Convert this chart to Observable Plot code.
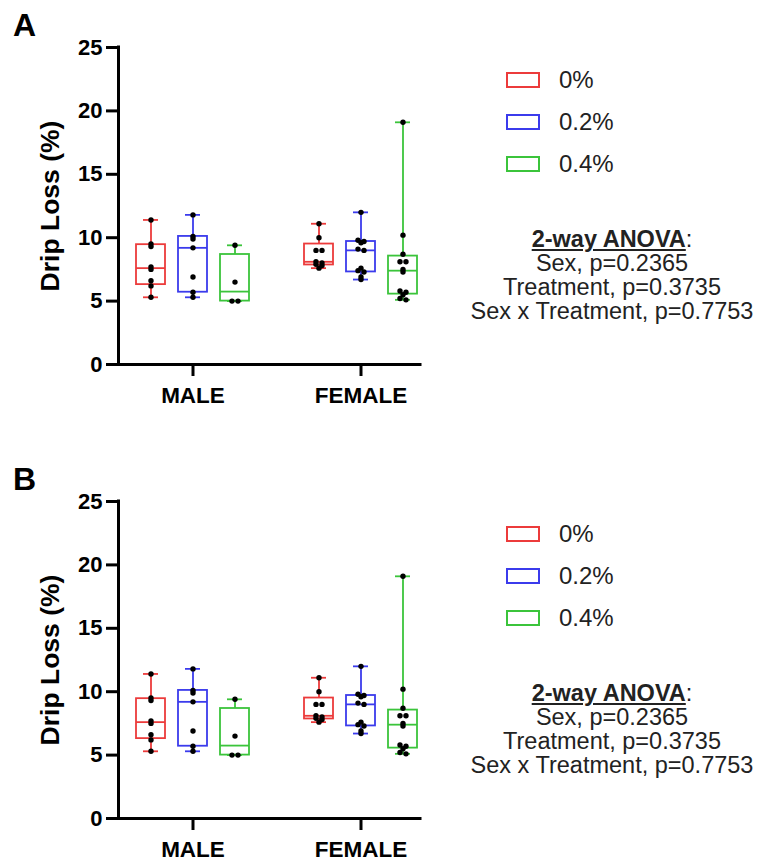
<!DOCTYPE html>
<html><head><meta charset="utf-8">
<script src="https://cdn.jsdelivr.net/npm/d3@7"></script>
<script src="https://cdn.jsdelivr.net/npm/@observablehq/plot@0.6"></script>
<style>
body{margin:0;overflow:hidden;background:#fff;font-family:"Liberation Sans",Arial,sans-serif;color:#000;}
#page{position:relative;width:759px;height:861px;overflow:hidden;background:#fff;}
.panel{position:absolute;left:0;width:759px;height:430px;}
.plot{position:absolute;left:0;top:0;}
.plabel{position:absolute;left:13px;top:9px;font-size:32px;font-weight:bold;line-height:32px;}
.legend{position:absolute;left:506px;top:59px;}
.legend .row{display:flex;align-items:center;height:42px;}
.legend .sw{box-sizing:border-box;width:34px;height:16px;border:2px solid;}
.legend .tx{margin-left:19px;font-size:24px;line-height:24px;color:#222;}
.anova{position:absolute;left:452px;width:320px;top:227px;text-align:center;font-size:23.5px;line-height:24px;color:#222;}
.anova .hd{font-weight:bold;text-decoration:underline;}
</style></head><body><div id="page"></div>
<script>
// ---- data ----
const sexes = ["MALE", "FEMALE"];
const treatments = ["0%", "0.2%", "0.4%"];
const colors = ["#ec3b3b", "#3b3bec", "#3bc43b"];
const yTicks = [0, 5, 10, 15, 20, 25];
const male0 = [11.4, 9.5, 9.3, 7.7, 7.5, 6.6, 6.2, 5.3];
const male02 = [11.8, 10.1, 9.9, 9.2, 6.9, 5.7, 5.3];
const male04 = [9.4, 6.5, 5.0, 5.0];
const female0 = [11.1, 10.0, 9.0, 9.0, 8.1, 8.0, 7.9, 7.8, 7.6];
const female02 = [12.0, 9.8, 9.7, 9.6, 9.1, 9.0, 7.6, 7.4, 7.3, 6.9, 6.7];
const female04 = [19.1, 10.2, 8.7, 8.1, 8.1, 7.5, 7.3, 5.8, 5.7, 5.5, 5.2, 5.1];
const anovaTitle = "2-way ANOVA";
const anovaLines = ["Sex, p=0.2365", "Treatment, p=0.3735", "Sex x Treatment, p=0.7753"];
const panelLabels = ["A", "B"];
const panelTops = [0, 454];

// ---- build tables ----
const series = {MALE: [male0, male02, male04], FEMALE: [female0, female02, female04]};
const key = (s, t) => s + "|" + t;
const rows = [];
for (const s of sexes) treatments.forEach((t, j) => series[s][j].forEach(v => rows.push({sex: s, treatment: t, group: key(s, t), value: v})));

// GraphPad-style quartiles (position p*(n+1))
function quart(sorted, p) {
  const n = sorted.length, pos = p * (n + 1);
  if (pos <= 1) return sorted[0];
  if (pos >= n) return sorted[n - 1];
  const i = Math.floor(pos);
  return sorted[i - 1] + (pos - i) * (sorted[i] - sorted[i - 1]);
}
const stats = [];
for (const s of sexes) treatments.forEach((t, j) => {
  const v = series[s][j].slice().sort((a, b) => a - b);
  stats.push({group: key(s, t), treatment: t, min: v[0], max: v[v.length - 1],
    q1: quart(v, 0.25), median: quart(v, 0.5), q3: quart(v, 0.75)});
});

const xDomain = [key("MALE","0%"), key("MALE","0.2%"), key("MALE","0.4%"), "gap", key("FEMALE","0%"), key("FEMALE","0.2%"), key("FEMALE","0.4%")];
const xTicks = sexes.map(s => key(s, "0.2%"));

// simple beeswarm: points with nearly equal y are set side by side around the group centre
function swarm(options, step = 6, thresh = 2) {
  return Plot.initializer(options, (data, facets, channels, scales) => {
    const G = channels.x.value, V = channels.y.value;
    const n = G.length, X = new Float64Array(n), Y = new Float64Array(n);
    for (let i = 0; i < n; i++) { X[i] = scales.x(G[i]); Y[i] = scales.y(V[i]); }
    const groups = d3.group(d3.range(n), i => G[i]);
    for (const [, I] of groups) {
      I.sort((a, b) => Y[a] - Y[b]);
      let row = [];
      const flush = () => { row.forEach((j, k) => { X[j] += (k - (row.length - 1) / 2) * step; }); row = []; };
      for (const i of I) { if (row.length && Y[i] - Y[row[0]] > thresh) flush(); row.push(i); }
      flush();
    }
    return {data, facets, channels: {x: {value: X}, y: {value: Y}}};
  });
}

function makePlot() {
  const W = 440, H = 420, ML = 118, MR = 20, MT = 47, MB = 56;
  const sw = 1.8;
  return Plot.plot({
    width: W, height: H, marginLeft: ML, marginRight: MR, marginTop: MT, marginBottom: MB,
    style: {fontFamily: '"Liberation Sans", Arial, sans-serif', background: "transparent", color: "black", overflow: "visible"},
    x: {type: "band", domain: xDomain, paddingInner: 0.3176, paddingOuter: 0.212, align: 0.86},
    y: {domain: [0, 25]},
    color: {domain: treatments, range: colors},
    marks: [
      Plot.axisY({ticks: yTicks, tickSize: 12, tickPadding: 4, fontSize: 22, fontWeight: "bold", strokeWidth: 3, tickFormat: d => String(d), label: null}),
      Plot.axisX({ticks: xTicks, tickFormat: g => g.split("|")[0], tickSize: 12, tickPadding: 11, fontSize: 22.5, fontWeight: "bold", strokeWidth: 3, label: null}),
      Plot.ruleY([0], {stroke: "black", strokeWidth: 3, strokeLinecap: "square"}),
      Plot.ruleX([null], {x: null, y1: 0, y2: 25, dx: -(W - ML - MR) / 2, stroke: "black", strokeWidth: 3, strokeLinecap: "square"}),
      Plot.text(["Drip Loss (%)"], {frameAnchor: "left", textAnchor: "middle", lineAnchor: "middle", rotate: -90, dx: -68, fontSize: 26.5, fontWeight: "bold", fill: "black"}),
      Plot.ruleX(stats, {x: "group", y1: "min", y2: "max", stroke: "treatment", strokeWidth: sw}),
      Plot.barY(stats, {x: "group", y1: "q1", y2: "q3", fill: "white", stroke: "treatment", strokeWidth: sw}),
      Plot.tickY(stats, {x: "group", y: "median", stroke: "treatment", strokeWidth: sw}),
      Plot.tickY(stats, {x: "group", y: "min", stroke: "treatment", strokeWidth: sw, insetLeft: 7, insetRight: 7}),
      Plot.tickY(stats, {x: "group", y: "max", stroke: "treatment", strokeWidth: sw, insetLeft: 7, insetRight: 7}),
      Plot.dot(rows, swarm({x: "group", y: "value", r: 2.7, fill: "black", stroke: "none"}))
    ]
  });
}

const page = document.getElementById("page");
panelLabels.forEach((lab, p) => {
  const panel = document.createElement("div");
  panel.className = "panel";
  panel.style.top = panelTops[p] + "px";
  const plot = makePlot();
  plot.classList.add("plot");
  panel.appendChild(plot);

  const l = document.createElement("div");
  l.className = "plabel"; l.textContent = lab;
  panel.appendChild(l);

  const leg = document.createElement("div");
  leg.className = "legend";
  treatments.forEach((t, j) => {
    const row = document.createElement("div"); row.className = "row";
    const b = document.createElement("span"); b.className = "sw"; b.style.borderColor = colors[j];
    const tx = document.createElement("span"); tx.className = "tx"; tx.textContent = t;
    row.appendChild(b); row.appendChild(tx); leg.appendChild(row);
  });
  panel.appendChild(leg);

  const an = document.createElement("div");
  an.className = "anova";
  const hd = document.createElement("div");
  const hs = document.createElement("span"); hs.className = "hd"; hs.textContent = anovaTitle;
  hd.appendChild(hs); hd.appendChild(document.createTextNode(":"));
  an.appendChild(hd);
  anovaLines.forEach(s => { const d = document.createElement("div"); d.textContent = s; an.appendChild(d); });
  panel.appendChild(an);

  page.appendChild(panel);
});
</script></body></html>
